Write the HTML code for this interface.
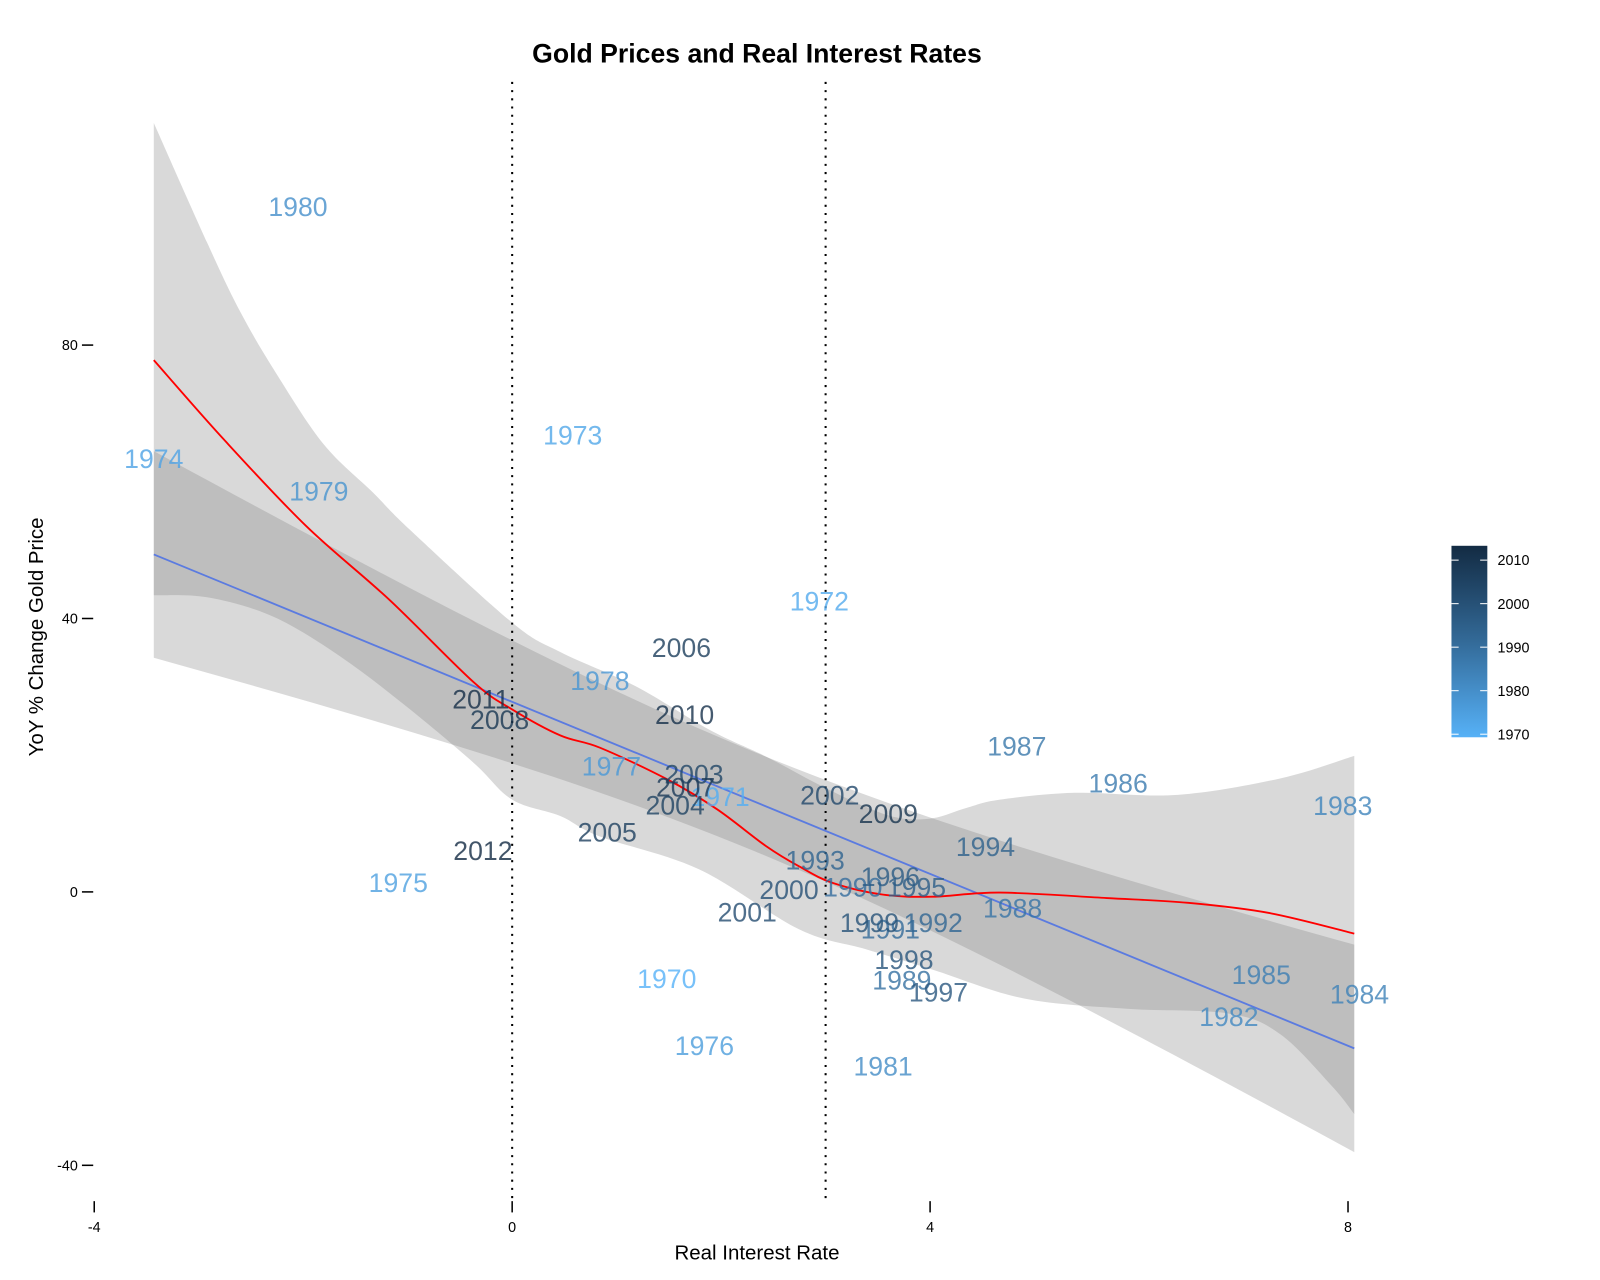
<!DOCTYPE html>
<html><head><meta charset="utf-8"><style>
html,body{margin:0;padding:0;background:#fff;}
svg{display:block;font-family:"Liberation Sans",sans-serif;}
</style></head><body>
<svg id="chart" width="1600" height="1280" viewBox="0 0 1562 1250" preserveAspectRatio="none" xmlns="http://www.w3.org/2000/svg">
<defs>
<linearGradient id="cbar" x1="0" y1="1" x2="0" y2="0">
<stop offset="0" stop-color="#56B1F7"/><stop offset="0.5" stop-color="#336A98"/><stop offset="1" stop-color="#132B43"/>
</linearGradient>
</defs>
<g id="bands"></g>
<g id="lines"></g>
<g id="labels"></g>
<g id="axes"></g>
<text x="739" y="61" text-anchor="middle" font-size="26" font-weight="bold">Gold Prices and Real Interest Rates</text>
<text x="739" y="1230" text-anchor="middle" font-size="20">Real Interest Rate</text>
<text x="42" y="622" text-anchor="middle" font-size="20" transform="rotate(-90 42 622)">YoY % Change Gold Price</text>
<g>
<rect x="1417" y="533" width="35" height="187" fill="url(#cbar)"/>
<g id="cbticks"></g>
</g>
</svg>
<script>
const years=[1970,1971,1972,1973,1974,1975,1976,1977,1978,1979,1980,1981,1982,1983,1984,1985,1986,1987,1988,1989,1990,1991,1992,1993,1994,1995,1996,1997,1998,1999,2000,2001,2002,2003,2004,2005,2006,2007,2008,2009,2010,2011,2012];
const rates=[1.48,1.99,2.94,0.58,-3.43,-1.09,1.84,0.95,0.84,-1.85,-2.05,3.55,6.86,7.95,8.11,7.17,5.80,4.83,4.79,3.73,3.26,3.62,4.03,2.90,4.53,3.87,3.62,4.08,3.75,3.42,2.65,2.25,3.04,1.74,1.56,0.91,1.62,1.66,-0.12,3.60,1.65,-0.30,-0.28];
const changes=[-12.7,13.9,42.5,66.8,63.4,1.3,-22.5,18.4,30.9,58.6,100.2,-25.5,-18.3,12.6,-15.0,-12.1,15.9,21.3,-2.4,-12.9,0.7,-5.5,-4.5,4.6,6.6,0.7,2.2,-14.7,-9.9,-4.5,0.3,-3.0,14.1,17.2,12.7,8.7,35.7,15.3,25.2,11.4,25.9,28.2,6.0];
const loessX=[-3.43,-2.76,-1.97,-1.18,-0.37,0,0.46,0.84,1.48,1.96,2.43,2.75,3.07,3.55,4.03,4.67,5.69,6.47,7.25,8.06];
const loessY=[77.8,66.2,53.5,42.8,30.7,26.7,22.9,21.1,16.5,12.1,6.7,3.7,1.3,-0.4,-0.7,-0.1,-0.9,-1.6,-3.1,-6.1];
const upX=[-3.43,-2.92,-2.61,-2.28,-1.81,-1.33,-0.98,0,0.46,1.18,1.89,2.43,2.91,3.39,3.71,4.03,4.35,4.67,5.39,6.37,7.35,8.06];
const upY=[112.5,95.0,85.1,76.4,65.6,58.4,53.0,39.4,35.1,30.1,23.7,19.8,15.9,12.4,10.8,10.8,12.3,13.5,14.5,14.2,16.6,19.9];
const loX=[-3.43,-2.92,-2.29,-1.65,-1.01,-0.37,0,0.46,0.84,1.79,2.75,3.39,4.03,4.90,5.88,6.86,7.35,7.84,8.06];
const loY=[43.4,43.1,40.3,34.5,27.1,18.9,13.5,11.1,8.1,3.3,-5.5,-8.4,-11.4,-15.6,-17.1,-17.8,-20.8,-28.3,-32.5];
const linIntercept=27.8, linSlope=-6.29, seA=52.6, seB=5.36, seMean=2.3;
const xTicks=[-4,0,4,8], yTicks=[80,40,0,-40], vlines=[0,3], cbTicks=[1970,1980,1990,2000,2010];
const xMin=-3.43,xMax=8.06;

const NS="http://www.w3.org/2000/svg";
const sx=v=>500+v*102, sy=v=>871-v*6.675;
const cy=v=>717-(v-1970)*4.25;
function mk(tag,attrs,parent){const e=document.createElementNS(NS,tag);for(const k in attrs)e.setAttribute(k,attrs[k]);parent.appendChild(e);return e;}
function col(y){const t=(y-1970)/42;const s=[[0x56,0xB1,0xF7],[0x33,0x6A,0x98],[0x13,0x2B,0x43]];let a,b,u;if(t<0.5){a=s[0];b=s[1];u=t*2;}else{a=s[1];b=s[2];u=(t-0.5)*2;}return "rgb("+a.map((c,i)=>Math.round(c+(b[i]-c)*u)).join(",")+")";}
function smooth(pts,move){let d=move?"M"+pts[0][0]+","+pts[0][1]:" L"+pts[0][0]+","+pts[0][1];
for(let i=0;i<pts.length-1;i++){const p0=pts[Math.max(0,i-1)],p1=pts[i],p2=pts[i+1],p3=pts[Math.min(pts.length-1,i+2)];
const c1=[p1[0]+(p2[0]-p0[0])/6,p1[1]+(p2[1]-p0[1])/6],c2=[p2[0]-(p3[0]-p1[0])/6,p2[1]-(p3[1]-p1[1])/6];
d+=" C"+c1[0]+","+c1[1]+" "+c2[0]+","+c2[1]+" "+p2[0]+","+p2[1];}return d;}
const bands=document.getElementById('bands'),lines=document.getElementById('lines'),labels=document.getElementById('labels'),axes=document.getElementById('axes');

// loess band
const upPts=upX.map((x,i)=>[sx(x),sy(upY[i])]);
const loPts=loX.map((x,i)=>[sx(x),sy(loY[i])]).reverse();
const lb=mk('path',{d:smooth(upPts,true)+smooth(loPts,false)+"Z",fill:"#808080","fill-opacity":"0.3"},bands);


// linear band
const N=60;let up=[],lo=[];
for(let i=0;i<=N;i++){const x=xMin+(xMax-xMin)*i/N;const m=linIntercept+linSlope*x;const h=Math.sqrt(seA+seB*(x-seMean)*(x-seMean));up.push(sx(x)+","+sy(m+h));lo.unshift(sx(x)+","+sy(m-h));}
const lnb=mk('path',{d:"M"+up.join(" L")+" L"+lo.join(" L")+"Z",fill:"#808080","fill-opacity":"0.3"},bands);


// dotted lines
vlines.forEach(v=>{const l=mk('line',{x1:sx(v),x2:sx(v),y1:80,y2:1175,stroke:"#000","stroke-width":2,"stroke-dasharray":"2 6"},lines);

});
const bl=mk('line',{x1:sx(xMin),y1:sy(linIntercept+linSlope*xMin),x2:sx(xMax),y2:sy(linIntercept+linSlope*xMax),stroke:"#5B7BE0","stroke-width":1.8},lines);


const rl=mk('path',{d:smooth(loessX.map((x,i)=>[sx(x),sy(loessY[i])]),true),fill:"none",stroke:"#FF0000","stroke-width":1.8},lines);


// labels
years.forEach((y,i)=>{const t=mk('text',{x:sx(rates[i]),y:sy(changes[i])+9,"text-anchor":"middle","font-size":26,fill:col(y),"fill-opacity":"0.8"},labels);t.textContent=y;

});
// axes
xTicks.forEach(v=>{const l=mk('line',{x1:sx(v),x2:sx(v),y1:1173,y2:1184,stroke:"#000","stroke-width":1.5},axes);


const t=mk('text',{x:sx(v),y:1203,"text-anchor":"middle","font-size":14},axes);t.textContent=v;

});
yTicks.forEach(v=>{const l=mk('line',{x1:80,x2:91,y1:sy(v),y2:sy(v),stroke:"#000","stroke-width":1.5},axes);


const t=mk('text',{x:76,y:sy(v)+5,"text-anchor":"end","font-size":14},axes);t.textContent=v;

});
const cb=document.getElementById('cbticks');
cbTicks.forEach(v=>{const y=cy(v);
const a=mk('line',{x1:1417,x2:1424,y1:y,y2:y,stroke:"#fff","stroke-width":1},cb);


const b=mk('line',{x1:1445,x2:1452,y1:y,y2:y,stroke:"#fff","stroke-width":1},cb);


const t=mk('text',{x:1462,y:y+5,"font-size":14},cb);t.textContent=v;

});
</script>
</body></html>
